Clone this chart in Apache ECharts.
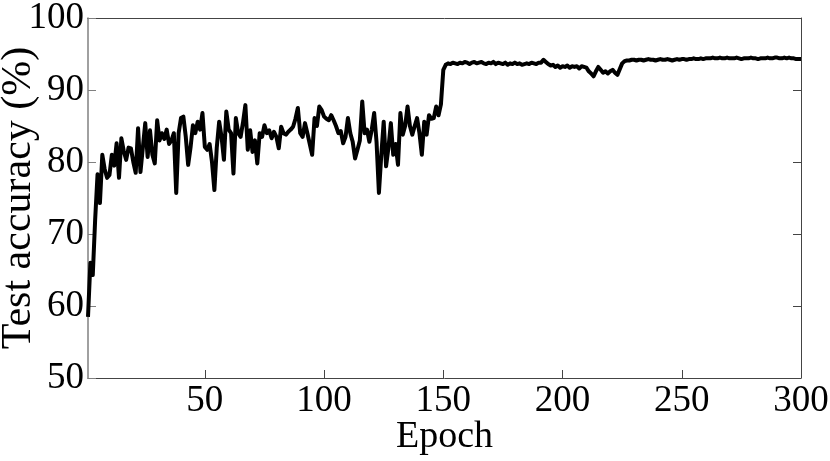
<!DOCTYPE html>
<html>
<head>
<meta charset="utf-8">
<script src="https://cdn.jsdelivr.net/npm/echarts@6/dist/echarts.min.js"></script>
<style>
  html, body { margin: 0; padding: 0; background: #fff; }
  #chart { width: 830px; height: 461px; }
</style>
</head>
<body>
<div id="chart"></div>
<script>
// test accuracy per epoch (epochs 1..300)
const accEarly = [
  58.5, 66.0, 64.3, 72.0, 78.3, 74.3, 81.0, 79.0, 77.8, 78.2,
  81.0, 79.5, 82.6, 77.8, 83.3, 81.5, 80.3, 82.0, 81.9, 80.0,
  78.5, 84.7, 78.6, 82.0, 85.4, 80.7, 84.4, 81.0, 79.8, 85.8,
  83.0, 84.0, 83.2, 84.5, 82.5, 83.0, 84.0, 75.7, 84.0, 86.1,
  86.3, 83.5, 79.6, 82.0, 85.1, 84.0, 85.6, 84.5, 86.8, 82.1,
  81.7, 82.5, 80.0, 76.1, 82.0, 85.6, 83.5, 80.3, 87.0, 84.5,
  84.0, 78.4, 86.1, 84.0, 83.5, 85.5, 87.9, 81.7, 84.4, 81.4,
  83.0, 79.8, 84.0, 83.5, 85.1, 84.0, 84.4, 83.3, 84.2, 83.5,
  81.9, 84.9, 84.0, 83.8, 84.2, 84.5, 84.9, 86.0, 87.5, 84.0,
  83.5, 85.4, 84.0, 82.5, 81.0, 86.1, 85.0, 87.7, 87.2, 86.3
];
const accMid = [
  86.0, 85.8, 86.5, 85.8, 85.0, 84.0, 84.3, 82.6, 83.5, 86.1,
  84.0, 82.8, 80.5, 81.7, 83.0, 88.4, 84.0, 84.5, 82.8, 84.5,
  86.8, 82.8, 75.7, 81.0, 85.6, 79.4, 82.0, 85.4, 81.0, 82.5,
  79.6, 86.8, 83.8, 85.0, 87.7, 85.0, 83.8, 85.0, 86.1, 84.0,
  81.0, 85.6, 83.8, 86.5, 86.0, 86.1, 87.7, 86.5, 88.0, 92.8,
  93.5, 93.7, 93.6, 93.8, 93.7, 93.6, 93.8, 93.7, 93.9, 93.8,
  93.6, 93.8, 93.9, 93.7, 93.8, 93.9, 93.7, 93.6, 93.8, 93.7,
  93.9, 93.6, 93.8, 93.7, 93.6, 93.8, 93.5, 93.7, 93.6, 93.8,
  93.6, 93.7, 93.5, 93.6, 93.7, 93.6, 93.8, 93.7, 93.6, 93.8,
  93.8, 94.2, 93.9, 93.6, 93.4, 93.5, 93.2, 93.4, 93.1, 93.3
];
const accLate = [
  93.2, 93.4, 93.1, 93.3, 93.2, 93.3, 93.0, 93.3, 93.2, 93.1,
  92.6, 92.3, 91.9, 92.6, 93.2, 92.8, 92.4, 92.6, 92.3, 92.6,
  92.8, 92.4, 92.1, 92.9, 93.7, 94.0, 94.1, 94.1, 94.2, 94.2,
  94.1, 94.2, 94.2, 94.1, 94.2, 94.3, 94.2, 94.2, 94.1, 94.2,
  94.3, 94.2, 94.2, 94.3, 94.2, 94.1, 94.2, 94.3, 94.2, 94.3,
  94.3, 94.2, 94.3, 94.3, 94.4, 94.3, 94.3, 94.4, 94.3, 94.4,
  94.4, 94.4, 94.5, 94.4, 94.4, 94.5, 94.4, 94.4, 94.5, 94.4,
  94.4, 94.4, 94.5, 94.4, 94.3, 94.4, 94.4, 94.4, 94.5, 94.4,
  94.4, 94.3, 94.4, 94.4, 94.4, 94.5, 94.4, 94.4, 94.5, 94.5,
  94.4, 94.4, 94.5, 94.4, 94.5, 94.4, 94.4, 94.3, 94.3, 94.3
];
const xTicks = [50, 100, 150, 200, 250, 300];

const acc = accEarly.concat(accMid, accLate);
const points = acc.map((v, i) => [i + 1, v]);

const serif = '"Liberation Serif", "Times New Roman", serif';

const chart = echarts.init(document.getElementById('chart'));
chart.setOption({
  animation: false,
  backgroundColor: '#fff',
  grid: { left: 88, right: 29, top: 18, bottom: 83, outerBoundsMode: 'none', containLabel: false },
  xAxis: [
    {
      type: 'value', min: 1, max: 300, position: 'bottom',
      name: 'Epoch', nameLocation: 'middle', nameGap: 40, nameMoveOverlap: false,
      nameTextStyle: { fontFamily: serif, fontSize: 38, color: '#000' },
      axisLine: { lineStyle: { color: '#444', width: 1 } },
      axisTick: { inside: true, length: 8, customValues: xTicks, lineStyle: { color: '#444' } },
      axisLabel: { customValues: xTicks, fontFamily: serif, fontSize: 37, color: '#000', margin: 5 },
      splitLine: { show: false }
    },
    {
      type: 'value', min: 1, max: 300, position: 'top',
      axisLine: { lineStyle: { color: '#444', width: 1 } },
      axisTick: { show: false },
      axisLabel: { show: false },
      splitLine: { show: false }
    }
  ],
  yAxis: [
    {
      type: 'value', min: 50, max: 100, interval: 10, position: 'left',
      name: 'Test accuracy (%)', nameLocation: 'middle', nameGap: 48, nameMoveOverlap: false,
      nameTextStyle: { fontFamily: serif, fontSize: 42, color: '#000' },
      axisLine: { show: true, lineStyle: { color: '#808080', width: 1.5 } },
      axisTick: { show: true, inside: true, length: 8, lineStyle: { color: '#808080' } },
      axisLabel: { fontFamily: serif, fontSize: 37, color: '#000', margin: 4 },
      splitLine: { show: false }
    },
    {
      type: 'value', min: 50, max: 100, interval: 10, position: 'right',
      axisLine: { show: true, lineStyle: { color: '#444', width: 1 } },
      axisTick: { show: true, inside: true, length: 8, lineStyle: { color: '#444' } },
      axisLabel: { show: false },
      splitLine: { show: false }
    }
  ],
  series: [{
    type: 'line',
    data: points,
    showSymbol: false,
    lineStyle: { color: '#000', width: 4, join: 'round' },
    clip: true
  }]
});
</script>
</body>
</html>
